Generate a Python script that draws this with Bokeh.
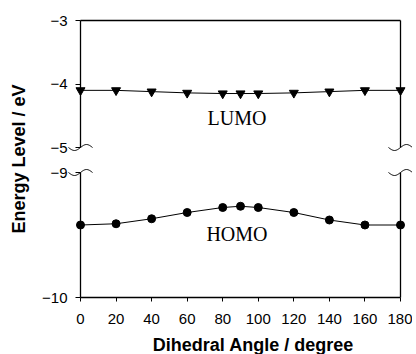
import numpy as np
from bokeh.plotting import figure
from bokeh.layouts import row, column
from bokeh.models import Range1d, FixedTicker, LinearAxis, Label
from bokeh.embed import file_html
from bokeh.resources import INLINE

# ---------------- data ----------------
angles = [0, 20, 40, 60, 80, 90, 100, 120, 140, 160, 180]
lumo = [-4.10, -4.10, -4.12, -4.14, -4.15, -4.15, -4.15, -4.14, -4.12, -4.10, -4.10]
homo = [-9.42, -9.41, -9.37, -9.32, -9.28, -9.27, -9.28, -9.32, -9.38, -9.42, -9.42]
x_ticks = [0, 20, 40, 60, 80, 100, 120, 140, 160, 180]
top_ticks = [-5, -4, -3]
bottom_ticks = [-10, -9]
x_title = "Dihedral Angle / degree"
y_title = "Energy Level / eV"

SANS = "Liberation Sans"
SERIF = "Liberation Serif"
W = 374


def style_left(ax, ticks):
    ax.ticker = FixedTicker(ticks=ticks)
    ax.major_tick_out = 5
    ax.major_tick_in = 0
    ax.minor_tick_line_color = None
    ax.major_label_standoff = 8
    ax.major_label_text_font = SANS
    ax.major_label_text_font_size = "15px"
    ax.major_label_text_color = "black"
    ax.axis_line_color = "black"
    ax.axis_line_width = 1.3
    ax.major_tick_line_color = "black"


def border_axis(p, side):
    ax = LinearAxis(ticker=FixedTicker(ticks=[]))
    ax.axis_line_color = "black"
    ax.axis_line_width = 1.3
    ax.major_tick_line_color = None
    ax.minor_tick_line_color = None
    p.add_layout(ax, side)


def squiggle(p, x0, y0, ypx):
    # small "~" break mark centred on the axis end
    xpx = 320.0 / 180.0
    t = np.linspace(-12, 12, 33)
    xs = x0 + t / xpx
    ys = y0 + 3.0 * np.sin(np.pi * t / 12.0) / ypx
    r = p.line(xs, ys, line_color="black", line_width=1)
    r.level = "overlay"


def strip(width, height):
    s = figure(width=width, height=height, x_range=Range1d(0, width), y_range=Range1d(0, height),
               output_backend="svg", toolbar_location=None, tools="",
               x_axis_location=None, y_axis_location=None,
               min_border_left=0, min_border_right=0, min_border_top=0, min_border_bottom=0)
    s.outline_line_color = None
    s.grid.visible = False
    return s


# ---------------- top panel (LUMO) ----------------
p1 = figure(width=W, height=160, x_range=Range1d(0, 180), y_range=Range1d(-5, -3),
            output_backend="svg", toolbar_location=None, tools="",
            x_axis_location=None, y_axis_location="left",
            min_border_left=42, min_border_right=12, min_border_top=20, min_border_bottom=13)
p1.outline_line_color = None
p1.grid.visible = False
style_left(p1.yaxis[0], top_ticks)
border_axis(p1, "right")
border_axis(p1, "above")
p1.line(angles, lumo, line_color="black", line_width=1)
r = p1.scatter(angles, lumo, marker="inverted_triangle", size=9, color="black")
r.level = "overlay"
p1.add_layout(Label(x=88, y=-4.53, text="LUMO", text_font=SERIF, text_font_size="20px",
                    text_align="center", text_baseline="middle", text_color="black"))
squiggle(p1, 0, -5, 127 / 2.0)
squiggle(p1, 180, -5, 127 / 2.0)

# ---------------- bottom panel (HOMO) ----------------
p2 = figure(width=W, height=172, x_range=p1.x_range, y_range=Range1d(-10, -9),
            output_backend="svg", toolbar_location=None, tools="",
            min_border_left=42, min_border_right=12, min_border_top=12, min_border_bottom=35)
p2.outline_line_color = None
p2.grid.visible = False
style_left(p2.yaxis[0], bottom_ticks)
border_axis(p2, "right")
xa = p2.xaxis[0]
xa.ticker = FixedTicker(ticks=x_ticks)
xa.major_tick_out = 4
xa.major_tick_in = 0
xa.minor_tick_line_color = None
xa.major_label_standoff = 12
xa.major_label_text_font = SANS
xa.major_label_text_font_size = "15px"
xa.major_label_text_color = "black"
xa.axis_line_color = "black"
xa.axis_line_width = 1.3
p2.line(angles, homo, line_color="black", line_width=1)
r2 = p2.scatter(angles, homo, marker="circle", size=8, color="black")
r2.level = "overlay"
p2.add_layout(Label(x=88, y=-9.49, text="HOMO", text_font=SERIF, text_font_size="20px",
                    text_align="center", text_baseline="middle", text_color="black"))
squiggle(p2, 0, -9, 125.0)
squiggle(p2, 180, -9, 125.0)

# ---------------- x title strip ----------------
xt = strip(W, 22)
xt.add_layout(Label(x=202, y=10, text=x_title, text_font=SANS, text_font_style="bold",
                    text_font_size="18px", text_align="center", text_baseline="middle",
                    text_color="black"))

# ---------------- y title strip ----------------
t = strip(38, 354)
t.add_layout(Label(x=18, y=195.5, text=y_title, angle=np.pi / 2, text_font=SANS,
                   text_font_style="bold", text_font_size="18px",
                   text_align="center", text_baseline="middle", text_color="black"))

layout = row(t, column(p1, p2, xt))
open("out.html", "w").write(file_html(layout, INLINE))
